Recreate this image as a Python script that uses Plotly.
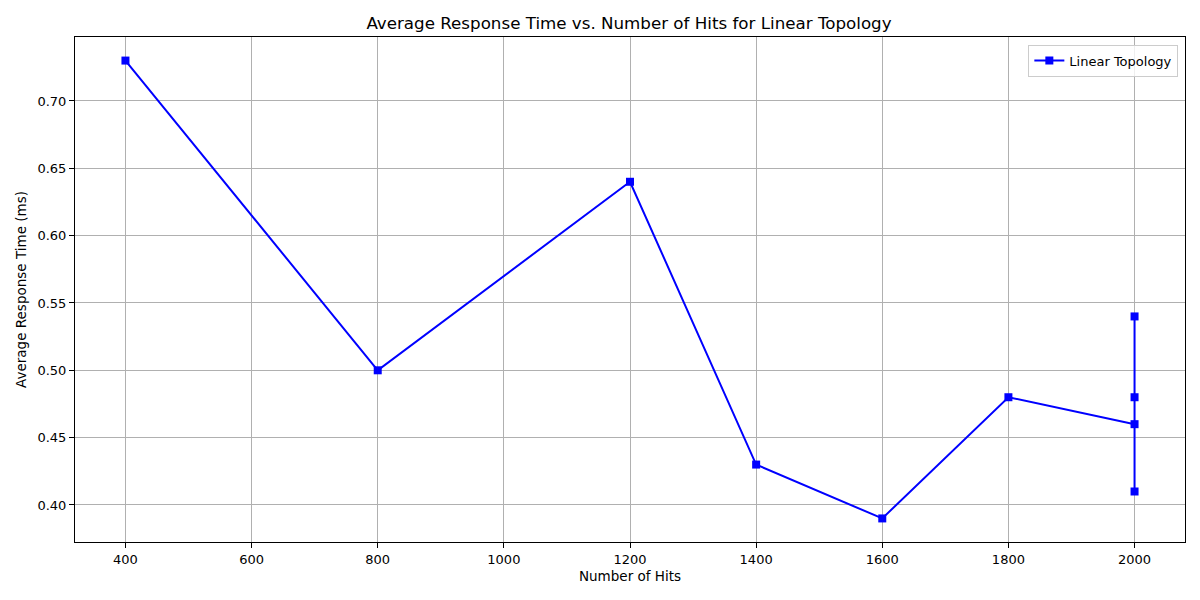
import plotly.graph_objects as go

hits = [400, 800, 1200, 1400, 1600, 1800, 2000, 2000, 2000, 2000]
resp = [0.73, 0.50, 0.64, 0.43, 0.39, 0.48, 0.46, 0.48, 0.54, 0.41]
x_ticks = [400, 600, 800, 1000, 1200, 1400, 1600, 1800, 2000]
y_ticks = [0.40, 0.45, 0.50, 0.55, 0.60, 0.65, 0.70]

fig = go.Figure()
fig.add_trace(go.Scatter(
    x=hits, y=resp, mode="lines+markers", name="Linear Topology",
    line=dict(color="blue", width=2),
    marker=dict(symbol="square", size=8, color="blue"),
))

axis_common = dict(
    showline=True, linecolor="black", linewidth=1, mirror=True,
    ticks="outside", ticklen=5, tickwidth=1, tickcolor="black",
    showgrid=True, gridcolor="#b0b0b0", gridwidth=1, zeroline=False,
    tickfont=dict(size=13, color="black"),
)

fig.update_layout(
    width=1184, height=584,
    paper_bgcolor="white", plot_bgcolor="white",
    font=dict(family="DejaVu Sans", color="black"),
    margin=dict(l=67, r=7, t=29, b=50),
    title=dict(text="Average Response Time vs. Number of Hits for Linear Topology",
               x=0.5245, xanchor="center", y=0.974, yanchor="middle",
               font=dict(size=16.7)),
    xaxis=dict(range=[320, 2080], tickvals=x_ticks,
               title=dict(text="Number of Hits", font=dict(size=13.5), standoff=5),
               **axis_common),
    yaxis=dict(range=[0.3725, 0.7475], tickvals=y_ticks, tickformat=".2f",
               title=dict(text="Average Response Time (ms)", font=dict(size=13.5), standoff=7),
               **axis_common),
    showlegend=True,
    legend=dict(x=0.994, y=0.985, xanchor="right", yanchor="top",
                bordercolor="#cccccc", borderwidth=1, bgcolor="rgba(255,255,255,0.8)",
                font=dict(size=13)),
)

fig.write_html("out.html")
